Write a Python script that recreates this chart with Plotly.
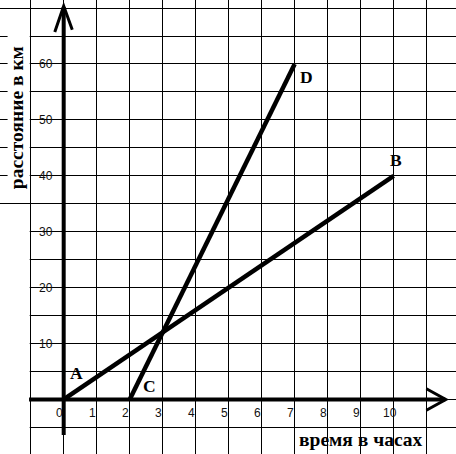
import plotly.graph_objects as go

# ---- data ----
ab_time = [0, 10]
ab_dist = [0, 40]
cd_time = [2, 7]
cd_dist = [0, 60]

point_names = ["A", "B", "C", "D"]
point_time = [0.40, 10.08, 2.59, 7.36]
point_dist = [4.7, 42.8, 2.4, 57.6]

x_ticks = [0, 1, 2, 3, 4, 5, 6, 7, 8, 9, 10]
y_ticks = [10, 20, 30, 40, 50, 60]

x_title = "время в часах"
y_title = "расстояние в км"

XR = [-1.930, 11.888]
YR = [-9.75, 71.44]

fig = go.Figure()

fig.add_trace(go.Scatter(x=ab_time, y=ab_dist, mode="lines",
                         line=dict(color="black", width=4.5), hoverinfo="skip"))
fig.add_trace(go.Scatter(x=cd_time, y=cd_dist, mode="lines",
                         line=dict(color="black", width=4.5), hoverinfo="skip"))

shapes = []
# cover left grid stubs
shapes.append(dict(type="rect", xref="x", yref="y", x0=-1.70, x1=-1.03, y0=36.6, y1=67.0,
                   fillcolor="white", line=dict(width=0), layer="above"))
shapes.append(dict(type="rect", xref="x", yref="y", x0=-2.0, x1=-1.03, y0=-10, y1=33.0,
                   fillcolor="white", line=dict(width=0), layer="above"))
# axes
shapes.append(dict(type="line", xref="x", yref="y", x0=-1.05, x1=11.56, y0=0, y1=0,
                   line=dict(color="black", width=4), layer="above"))
shapes.append(dict(type="line", xref="x", yref="y", x0=0, x1=0, y0=-6.35, y1=70.2,
                   line=dict(color="black", width=4), layer="above"))
# arrowheads
shapes.append(dict(type="path", xref="x", yref="y",
                   path="M 10.99 1.93 L 11.58 0 L 10.99 -1.93",
                   line=dict(color="black", width=3), layer="above"))
shapes.append(dict(type="path", xref="x", yref="y",
                   path="M -0.27 65.7 L 0 70.37 L 0.26 66.1",
                   line=dict(color="black", width=3), layer="above"))

annotations = []
for t in x_ticks:
    annotations.append(dict(x=t - 0.12, y=-2.36, xref="x", yref="y", text=str(t),
                            showarrow=False, xanchor="center", yanchor="middle",
                            font=dict(family="Liberation Sans", size=12, color="#111")))
for v in y_ticks:
    annotations.append(dict(x=-0.25, y=v, xref="x", yref="y", text=str(v),
                            showarrow=False, xanchor="right", yanchor="middle",
                            font=dict(family="Liberation Sans", size=12, color="#111")))
for n, t, d in zip(point_names, point_time, point_dist):
    annotations.append(dict(x=t, y=d, xref="x", yref="y", text="<b>%s</b>" % n,
                            showarrow=False, xanchor="center", yanchor="middle",
                            font=dict(family="Liberation Serif", size=17.5, color="black")))
annotations.append(dict(x=9.01, y=-7.19, xref="x", yref="y", text="<b>%s</b>" % x_title,
                        showarrow=False, xanchor="center", yanchor="middle",
                        font=dict(family="Liberation Serif", size=19.5, color="black")))
annotations.append(dict(x=-1.424, y=50.43, xref="x", yref="y", text="<b>%s</b>" % y_title,
                        showarrow=False, xanchor="center", yanchor="middle", textangle=-90,
                        font=dict(family="Liberation Serif", size=19.5, color="black")))

fig.update_layout(
    width=456, height=454,
    margin=dict(l=0, r=0, t=0, b=0, pad=0),
    paper_bgcolor="white", plot_bgcolor="white",
    showlegend=False,
    shapes=shapes, annotations=annotations,
    xaxis=dict(range=XR, showgrid=True, gridcolor="black", gridwidth=1, dtick=1, tick0=0,
               showticklabels=False, zeroline=False, showline=False, ticks="", fixedrange=True),
    yaxis=dict(range=YR, showgrid=True, gridcolor="black", gridwidth=1, dtick=5, tick0=0,
               showticklabels=False, zeroline=False, showline=False, ticks="", fixedrange=True),
)

fig.write_html("out.html", config={"displayModeBar": False},
               post_script="document.body.style.margin='0';document.body.style.overflow='hidden';")
